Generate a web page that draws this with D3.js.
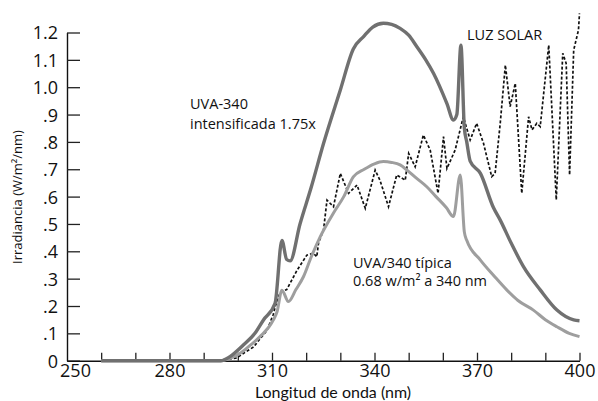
<!DOCTYPE html>
<html>
<head>
<meta charset="utf-8">
<script src="https://cdn.jsdelivr.net/npm/d3@7"></script>
<style>
  body { margin: 0; background: #fff; }
  svg { display: block; font-family: "Open Sans", sans-serif; }
</style>
</head>
<body>
<svg id="chart" width="598" height="401"></svg>
<script>
// data: [wavelength nm, irradiance W/m2/nm]
const intensificada = [
  [260,0],[295,0],[297.7,0.015],[301.6,0.057],[305,0.1],[307.5,0.149],[310.9,0.21],
  [312.9,0.44],[314.3,0.37],[315.3,0.365],[318.2,0.5],[321.5,0.635],[325.1,0.795],
  [330,0.99],[333.8,1.14],[336.8,1.185],[339.5,1.22],[342.6,1.234],[345,1.23],
  [347.5,1.215],[350,1.19],[352.4,1.148],[355,1.1],[357.3,1.05],[361.2,0.94],
  [363.1,0.88],[364.1,0.9],[365.3,1.154],[366.3,0.85],[367,0.8],[368,0.73],
  [371,0.685],[374.8,0.56],[376.8,0.514],[380,0.43],[383.6,0.344],[388.5,0.259],
  [393.4,0.185],[398.3,0.149],[400,0.146]
];
const tipica = [
  [260,0],[295,0],[298,0.01],[300.7,0.027],[303.5,0.055],[306.5,0.088],[310.4,0.149],
  [311.5,0.18],[312.9,0.258],[314.8,0.216],[317,0.26],[319.2,0.307],[321.5,0.38],
  [324.1,0.453],[328,0.54],[331,0.6],[333.8,0.672],[337,0.7],[340,0.72],[342.6,0.728],
  [345,0.725],[347.5,0.716],[349.5,0.697],[352,0.67],[355.3,0.636],[358,0.6],
  [361,0.56],[363.1,0.527],[365.1,0.679],[366.3,0.47],[367,0.44],[371,0.368],
  [375,0.31],[378.7,0.259],[382,0.22],[386.5,0.185],[390,0.15],[393.4,0.124],
  [397,0.1],[400,0.088]
];
const luzSolar = [
  [293,0],[297,0.005],[299.7,0.01],[302,0.03],[304.6,0.05],[306.5,0.08],[308.5,0.11],
  [310.4,0.17],[311,0.2],[312.4,0.25],[314.3,0.26],[317.3,0.33],[320.2,0.386],
  [322.1,0.393],[323.1,0.38],[323.6,0.429],[325.1,0.48],[326.1,0.587],[328,0.563],
  [330,0.685],[332.4,0.612],[334.9,0.642],[337.3,0.557],[340.2,0.697],[341.6,0.66],
  [344.1,0.563],[346.5,0.679],[349,0.66],[350,0.758],[351.9,0.709],[354.3,0.825],
  [356.3,0.77],[358.6,0.612],[360.2,0.819],[361.2,0.703],[363.6,0.77],[366,0.892],
  [368,0.807],[369.9,0.868],[371.9,0.795],[374.3,0.673],[375.3,0.685],[376.8,0.868],
  [378.3,1.081],[379.7,0.929],[381.2,1.014],[383.1,0.612],[385.1,0.892],[386.1,0.844],
  [387.5,0.868],[388.5,0.856],[391,1.154],[393.2,0.588],[395.1,1.124],[396.1,1.087],
  [397.1,0.679],[398.3,1.136],[399.7,1.209],[400,1.27]
];
const xTicks = d3.range(250, 401, 10);
const xTickLabels = ["250","280","310","340","370","400"];
const yTicks = d3.range(0, 13).map(i => i / 10);
const yTickLabels = ["0",".1",".2",".3",".4",".5",".6",".7",".8",".9","1.0","1.1","1.2"];

const svg = d3.select("#chart");

const x = d3.scaleLinear().domain([250, 400]).range([67, 579.5]);
const y = d3.scaleLinear().domain([0, 1.2]).range([360.7, 32.5]);

// y axis: ticks point inward (right), labels on the left
const yAxis = svg.append("g")
  .attr("transform", "translate(67,0)")
  .call(d3.axisLeft(y).tickValues(yTicks).tickSizeInner(-13).tickSizeOuter(0).tickPadding(9)
    .tickFormat((d, i) => yTickLabels[i]));
yAxis.select(".domain").attr("stroke", "#111").attr("stroke-width", 1.4);
yAxis.selectAll(".tick line").attr("stroke", "#222").attr("stroke-width", 1.3);
yAxis.selectAll(".tick text")
  .attr("font-family", "Open Sans").attr("font-size", 18).attr("fill", "#111").attr("dy", "0.36em");

// x axis: ticks point up
const xAxis = svg.append("g")
  .attr("transform", "translate(0,360.7)")
  .call(d3.axisBottom(x).tickValues(xTicks).tickSizeInner(-8).tickSizeOuter(0).tickPadding(4)
    .tickFormat(d => xTickLabels.includes(String(d)) ? String(d) : ""));
xAxis.select(".domain").attr("stroke", "#111").attr("stroke-width", 1.4);
xAxis.selectAll(".tick line").attr("stroke", "#222").attr("stroke-width", 1.3)
  .filter(d => d === 250).remove();
xAxis.selectAll(".tick text")
  .attr("font-family", "Open Sans").attr("font-size", 18).attr("fill", "#111");
xAxis.selectAll(".tick text").filter(d => d === 250).attr("x", 8);

// axis titles
svg.append("text")
  .attr("x", 333).attr("y", 397.5)
  .attr("text-anchor", "middle")
  .attr("font-family", "Lato")
  .attr("font-size", 16).attr("fill", "#111")
  .text("Longitud de onda (nm)");

svg.append("text")
  .attr("transform", "translate(22,197) rotate(-90)")
  .attr("text-anchor", "middle")
  .attr("font-size", 13).attr("fill", "#111")
  .text("Irradiancia (W/m²/nm)");

// curves
const smooth = d3.line().x(d => x(d[0])).y(d => y(d[1])).curve(d3.curveMonotoneX);
const sharp  = d3.line().x(d => x(d[0])).y(d => y(d[1]));

svg.append("path").datum(luzSolar)
  .attr("d", sharp).attr("fill", "none")
  .attr("stroke", "#111").attr("stroke-width", 1.7)
  .attr("stroke-dasharray", "3,2");

svg.append("path").datum(tipica)
  .attr("d", smooth).attr("fill", "none")
  .attr("stroke", "#9e9e9e").attr("stroke-width", 3)
  .attr("stroke-linejoin", "round");

svg.append("path").datum(intensificada)
  .attr("d", smooth).attr("fill", "none")
  .attr("stroke", "#707070").attr("stroke-width", 3.4)
  .attr("stroke-linejoin", "round");

// annotations
const notes = [
  { x: 190, y: 109, t: "UVA-340" },
  { x: 190, y: 129, t: "intensificada 1.75x" },
  { x: 467, y: 40,  t: "LUZ SOLAR" },
  { x: 353, y: 268, t: "UVA/340 típica" },
  { x: 353, y: 286, t: "0.68 w/m² a 340 nm" }
];
svg.selectAll("text.note")
  .data(notes)
  .join("text")
    .attr("class", "note")
    .attr("x", d => d.x).attr("y", d => d.y)
    .attr("font-size", 14.5).attr("fill", "#111")
    .text(d => d.t);
</script>
</body>
</html>
